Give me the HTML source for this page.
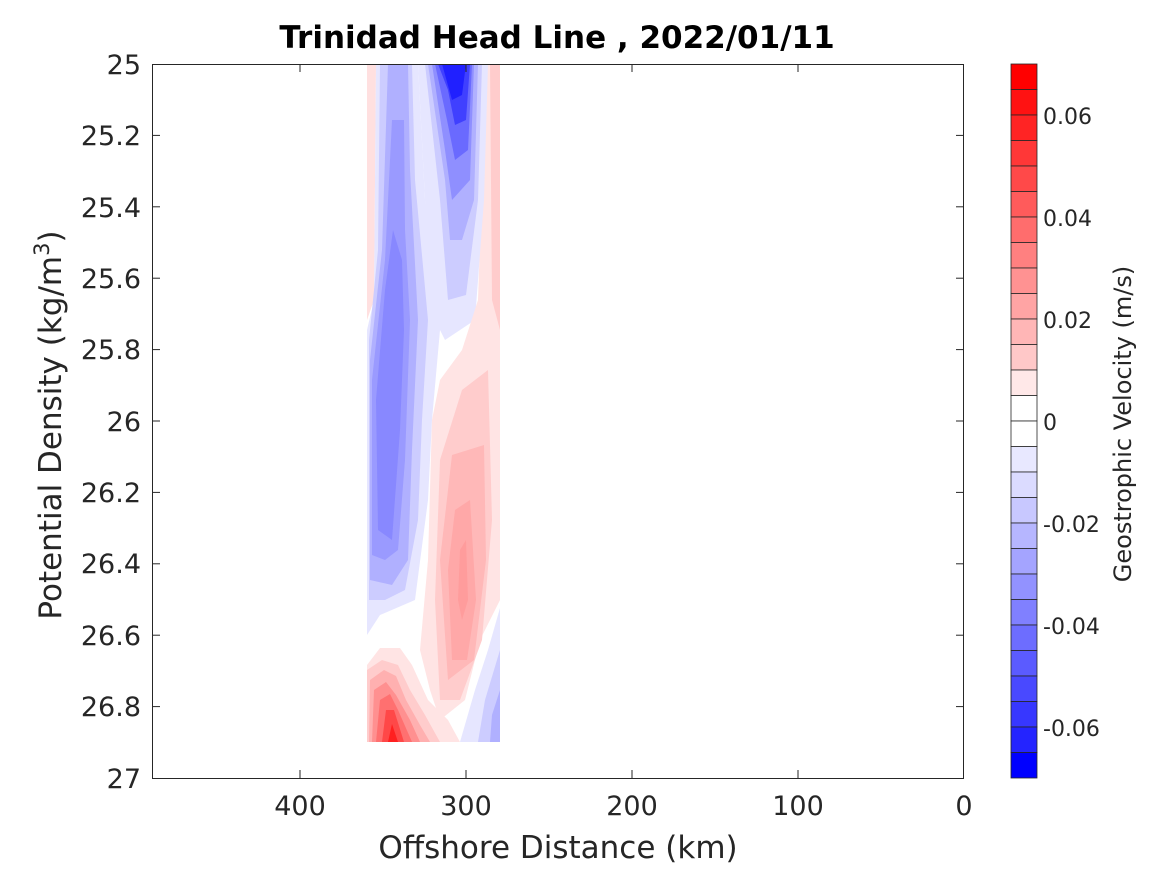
<!DOCTYPE html>
<html><head><meta charset="utf-8"><style>
body{margin:0;background:#fff;}
svg text{font-family:"DejaVu Sans","Liberation Sans",sans-serif;fill:#262626;}
</style></head><body>
<svg width="1167" height="875" viewBox="0 0 1167 875" xmlns="http://www.w3.org/2000/svg">
<rect width="1167" height="875" fill="#fff"/>
<defs><clipPath id="c"><rect x="367" y="64" width="133" height="678"/></clipPath></defs>
<g clip-path="url(#c)">
<polygon points="367,64 376,64 374,300 367,320" fill="#ffe0e0"/>
<polygon points="486,64 500,64 500,600 484,560 478,300" fill="#ffe4e4"/>
<polygon points="490,64 500,64 500,330 492,300" fill="#ffcccc"/>
<polygon points="376,64 418,64 425,200 440,330 432,420 428,500 415,600 380,615 367,635 367,330 374,300" fill="#e6e6ff"/>
<polygon points="380,64 412,64 415,180 428,320 422,420 418,520 405,590 385,600 369,600 369,340 378,250" fill="#ccccff"/>
<polygon points="388,64 408,64 410,170 418,320 412,450 408,560 392,585 370,580 370,360 382,250" fill="#b0b0ff"/>
<polygon points="392,120 404,120 405,230 410,320 405,460 398,550 385,560 372,555 372,380 385,260" fill="#9a9aff"/>
<polygon points="393,230 402,260 404,330 400,430 392,540 378,530 376,400 385,290" fill="#8888ff"/>
<polygon points="418,64 488,64 484,200 475,320 445,340 430,310 425,200" fill="#e6e6ff"/>
<polygon points="425,64 482,64 478,200 466,295 448,300 440,200" fill="#ccccff"/>
<polygon points="428,64 478,64 474,200 462,240 450,240 445,180" fill="#b0b0ff"/>
<polygon points="432,64 474,64 470,180 452,200 445,150" fill="#8f8fff"/>
<polygon points="435,64 472,64 468,150 455,160 447,120" fill="#6a6aff"/>
<polygon points="438,64 470,64 466,120 455,125 448,90" fill="#4040ff"/>
<polygon points="442,64 466,64 462,95 452,100" fill="#2020ff"/>
<polygon points="478,300 486,340 500,330 500,600 480,640 465,700 440,720 430,690 420,650 428,560 432,420 440,380 462,350" fill="#ffe4e4"/>
<polygon points="462,390 488,370 492,520 482,640 460,700 440,700 435,600 440,460" fill="#ffcccc"/>
<polygon points="452,455 484,445 486,560 474,660 448,680 440,560" fill="#ffb8b8"/>
<polygon points="455,510 470,500 476,600 467,660 452,660 448,570" fill="#ffa8a8"/>
<polygon points="460,550 466,540 468,600 462,620 458,600" fill="#ff9c9c"/>
<polygon points="500,608 500,742 460,742 475,690 488,650" fill="#e6e6ff"/>
<polygon points="500,650 500,742 478,742 485,700" fill="#ccccff"/>
<polygon points="500,690 500,742 490,742 492,715" fill="#b0b0ff"/>
<polygon points="367,742 367,665 380,648 400,648 412,665 428,700 448,720 460,742" fill="#ffe4e4"/>
<polygon points="367,742 367,670 382,660 398,665 410,690 425,715 440,742" fill="#ffcccc"/>
<polygon points="369,742 370,680 384,670 396,676 406,700 420,725 430,742" fill="#ffb0b0"/>
<polygon points="372,742 374,690 386,682 396,695 410,720 420,742" fill="#ff9090"/>
<polygon points="376,742 380,700 390,694 398,710 412,742" fill="#ff7070"/>
<polygon points="382,742 386,710 394,710 404,742" fill="#ff4848"/>
<polygon points="388,742 392,724 398,742" fill="#ff2020"/>
</g>
<rect x="152.5" y="64.5" width="811" height="714" fill="none" stroke="#262626" stroke-width="1"/>
<g stroke="#262626" stroke-width="1">
<line x1="300" y1="778" x2="300" y2="770"/><line x1="466" y1="778" x2="466" y2="770"/><line x1="632" y1="778" x2="632" y2="770"/><line x1="798" y1="778" x2="798" y2="770"/>
<line x1="300" y1="64" x2="300" y2="72"/><line x1="466" y1="64" x2="466" y2="72"/><line x1="632" y1="64" x2="632" y2="72"/><line x1="798" y1="64" x2="798" y2="72"/>
<line x1="152" y1="135.4" x2="160" y2="135.4"/><line x1="152" y1="206.8" x2="160" y2="206.8"/><line x1="152" y1="278.2" x2="160" y2="278.2"/><line x1="152" y1="349.6" x2="160" y2="349.6"/><line x1="152" y1="421" x2="160" y2="421"/><line x1="152" y1="492.4" x2="160" y2="492.4"/><line x1="152" y1="563.8" x2="160" y2="563.8"/><line x1="152" y1="635.2" x2="160" y2="635.2"/><line x1="152" y1="706.6" x2="160" y2="706.6"/>
<line x1="964" y1="135.4" x2="956" y2="135.4"/><line x1="964" y1="206.8" x2="956" y2="206.8"/><line x1="964" y1="278.2" x2="956" y2="278.2"/><line x1="964" y1="349.6" x2="956" y2="349.6"/><line x1="964" y1="421" x2="956" y2="421"/><line x1="964" y1="492.4" x2="956" y2="492.4"/><line x1="964" y1="563.8" x2="956" y2="563.8"/><line x1="964" y1="635.2" x2="956" y2="635.2"/><line x1="964" y1="706.6" x2="956" y2="706.6"/>
</g>
<g font-size="27" text-anchor="end">
<text x="141" y="74">25</text><text x="141" y="145">25.2</text><text x="141" y="217">25.4</text><text x="141" y="288">25.6</text><text x="141" y="359">25.8</text><text x="141" y="431">26</text><text x="141" y="502">26.2</text><text x="141" y="573">26.4</text><text x="141" y="645">26.6</text><text x="141" y="716">26.8</text><text x="141" y="788">27</text>
</g>
<g font-size="27" text-anchor="middle">
<text x="300" y="815">400</text><text x="466" y="815">300</text><text x="632" y="815">200</text><text x="798" y="815">100</text><text x="964" y="815">0</text>
<text x="558" y="858" font-size="31">Offshore Distance (km)</text>
<text x="557" y="48" font-size="31" font-weight="bold" style="fill:#000">Trinidad Head Line , 2022/01/11</text>
</g>
<text transform="translate(61,425) rotate(-90)" font-size="31" text-anchor="middle">Potential Density (kg/m<tspan font-size="21" dy="-12">3</tspan><tspan dy="12">)</tspan></text>
<g stroke="#262626" stroke-width="0.8">
<rect x="1011" y="64" width="26" height="25.5" fill="rgb(255,0,0)"/>
<rect x="1011" y="89.5" width="26" height="25.5" fill="rgb(255,18,18)"/>
<rect x="1011" y="115" width="26" height="25.5" fill="rgb(255,36,36)"/>
<rect x="1011" y="140.5" width="26" height="25.5" fill="rgb(255,55,55)"/>
<rect x="1011" y="166" width="26" height="25.5" fill="rgb(255,73,73)"/>
<rect x="1011" y="191.5" width="26" height="25.5" fill="rgb(255,91,91)"/>
<rect x="1011" y="217" width="26" height="25.5" fill="rgb(255,109,109)"/>
<rect x="1011" y="242.5" width="26" height="25.5" fill="rgb(255,128,128)"/>
<rect x="1011" y="268" width="26" height="25.5" fill="rgb(255,146,146)"/>
<rect x="1011" y="293.5" width="26" height="25.5" fill="rgb(255,164,164)"/>
<rect x="1011" y="319" width="26" height="25.5" fill="rgb(255,182,182)"/>
<rect x="1011" y="344.5" width="26" height="25.5" fill="rgb(255,200,200)"/>
<rect x="1011" y="370" width="26" height="25.5" fill="rgb(255,232,232)"/>
<rect x="1011" y="395.5" width="26" height="25.5" fill="rgb(255,255,255)"/>
<rect x="1011" y="421" width="26" height="25.5" fill="rgb(255,255,255)"/>
<rect x="1011" y="446.5" width="26" height="25.5" fill="rgb(232,232,255)"/>
<rect x="1011" y="472" width="26" height="25.5" fill="rgb(219,219,255)"/>
<rect x="1011" y="497.5" width="26" height="25.5" fill="rgb(200,200,255)"/>
<rect x="1011" y="523" width="26" height="25.5" fill="rgb(182,182,255)"/>
<rect x="1011" y="548.5" width="26" height="25.5" fill="rgb(164,164,255)"/>
<rect x="1011" y="574" width="26" height="25.5" fill="rgb(146,146,255)"/>
<rect x="1011" y="599.5" width="26" height="25.5" fill="rgb(128,128,255)"/>
<rect x="1011" y="625" width="26" height="25.5" fill="rgb(109,109,255)"/>
<rect x="1011" y="650.5" width="26" height="25.5" fill="rgb(91,91,255)"/>
<rect x="1011" y="676" width="26" height="25.5" fill="rgb(73,73,255)"/>
<rect x="1011" y="701.5" width="26" height="25.5" fill="rgb(55,55,255)"/>
<rect x="1011" y="727" width="26" height="25.5" fill="rgb(36,36,255)"/>
<rect x="1011" y="752.5" width="26" height="25.5" fill="rgb(0,0,255)"/>
</g>
<g font-size="22">
<text x="1043" y="124">0.06</text><text x="1043" y="226">0.04</text><text x="1043" y="328">0.02</text><text x="1043" y="430">0</text>
<text x="1043" y="532">-0.02</text><text x="1043" y="634">-0.04</text><text x="1043" y="736">-0.06</text>
</g>
<text transform="translate(1131,424) rotate(-90)" font-size="24" text-anchor="middle">Geostrophic Velocity (m/s)</text>
</svg>
</body></html>
